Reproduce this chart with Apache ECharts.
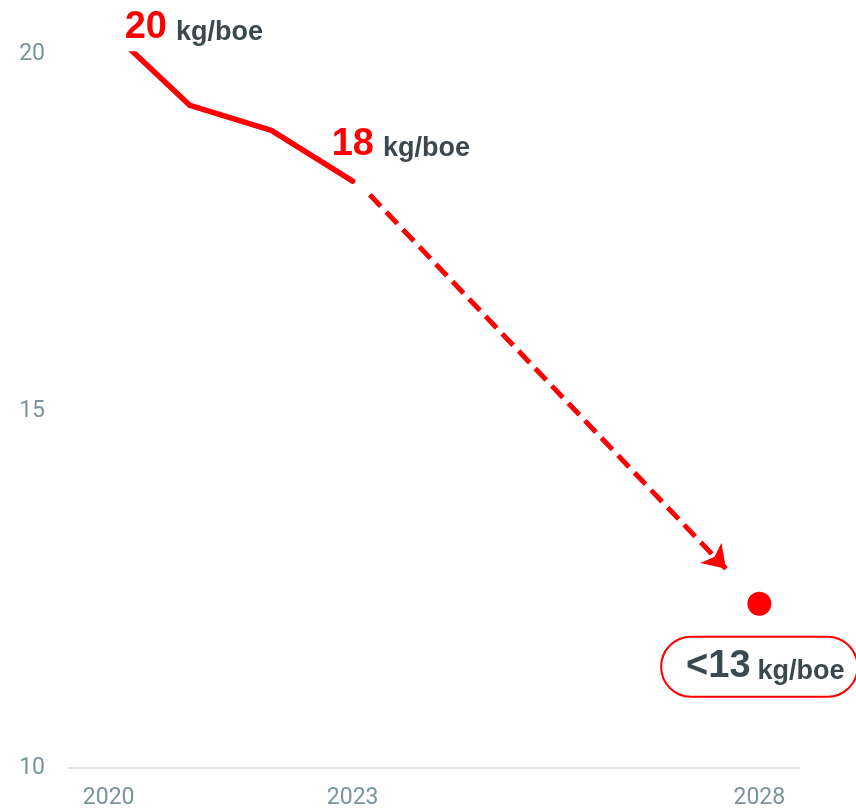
<!DOCTYPE html>
<html>
<head>
<meta charset="utf-8">
<script src="https://cdn.jsdelivr.net/npm/echarts@6/dist/echarts.min.js"></script>
<style>
  html, body { margin: 0; padding: 0; background: #fff; }
  #chart { width: 856px; height: 810px; }
</style>
</head>
<body>
<div id="chart"></div>
<script>
// data
const years = [2020, 2021, 2022, 2023]
const intensity = [20.35, 19.28, 18.93, 18.22]
const targetYear = [2028]
const targetValue = [12.3]
const arrowStart = [2023.21, 18.03]
const arrowEnd = [2027.59, 12.79]
const xLabelYears = [2020, 2023, 2028]
const calloutValues = ['20', '18']
const targetText = '<13'
const unit = 'kg/boe'

const red = '#ff0000'
const dark = '#3b484d'
const axisGrey = '#7b949a'

const chart = echarts.init(document.getElementById('chart'))

const rich = {
  big: { fontSize: 38, fontWeight: 'bold', color: red, fontFamily: 'Liberation Sans', verticalAlign: 'bottom' },
  big2: { fontSize: 38, fontWeight: 'bold', color: dark, fontFamily: 'Liberation Sans', verticalAlign: 'bottom' },
  unit: { fontSize: 27, fontWeight: 'bold', color: dark, fontFamily: 'Liberation Sans', verticalAlign: 'bottom', padding: [0, 0, 1, 9] },
  unit2: { fontSize: 27, fontWeight: 'bold', color: dark, fontFamily: 'Liberation Sans', verticalAlign: 'bottom', padding: [0, 0, 1, 7] }
}

chart.setOption({
  animation: false,
  grid: {
    left: 68,
    right: 56,
    top: 54,
    bottom: 42,
    outerBoundsMode: 'none'
  },
  xAxis: {
    type: 'value',
    min: 2019.5,
    max: 2028.5,
    splitLine: { show: false },
    axisTick: { show: false },
    axisLine: { show: true, lineStyle: { color: '#dfe6e9', width: 2 } },
    axisLabel: {
      customValues: xLabelYears,
      formatter: v => String(v),
      color: axisGrey,
      fontSize: 23,
      fontFamily: 'Roboto',
      margin: 19
    }
  },
  yAxis: {
    type: 'value',
    min: 10,
    max: 20,
    interval: 5,
    splitLine: { show: false },
    axisTick: { show: false },
    axisLine: { show: false },
    axisLabel: {
      color: axisGrey,
      fontSize: 23,
      fontFamily: 'Roboto',
      margin: 23
    }
  },
  series: [
    {
      type: 'line',
      data: years.map((y, i) => [y, intensity[i]]),
      symbol: 'none',
      clip: true,
      lineStyle: { color: red, width: 5.5, cap: 'round', join: 'round' }
    },
    {
      // callouts on first and last actual point
      type: 'scatter',
      clip: false,
      symbolSize: 1,
      itemStyle: { color: 'rgba(0,0,0,0)', opacity: 1 },
      data: [
        {
          value: [years[0], intensity[0]],
          label: { offset: [16, -1] }
        },
        {
          value: [years[3], intensity[3]],
          label: { offset: [-21, -37] }
        }
      ],
      label: {
        show: true,
        position: 'inside',
        align: 'left',
        verticalAlign: 'middle',
        formatter: p => '{big|' + calloutValues[p.dataIndex] + '}{unit|' + unit + '}',
        rich: rich
      }
    },
    {
      type: 'lines',
      coordinateSystem: 'cartesian2d',
      symbol: ['none', 'arrow'],
      symbolSize: 22,
      lineStyle: { color: red, width: 5, type: [16, 8], opacity: 1 },
      data: [{ coords: [arrowStart, arrowEnd] }]
    },
    {
      type: 'scatter',
      clip: false,
      symbol: 'circle',
      symbolSize: 24,
      itemStyle: { color: red, opacity: 1 },
      data: targetYear.map((y, i) => [y, targetValue[i]]),
      label: {
        show: true,
        position: 'inside',
        offset: [0, 63],
        formatter: () => '{big2|' + targetText + '}{unit2|' + unit + '}',
        rich: rich,
        backgroundColor: '#fff',
        borderColor: red,
        borderWidth: 2,
        borderRadius: 32,
        padding: [10, 12, 10, 24]
      }
    }
  ]
})
</script>
</body>
</html>
